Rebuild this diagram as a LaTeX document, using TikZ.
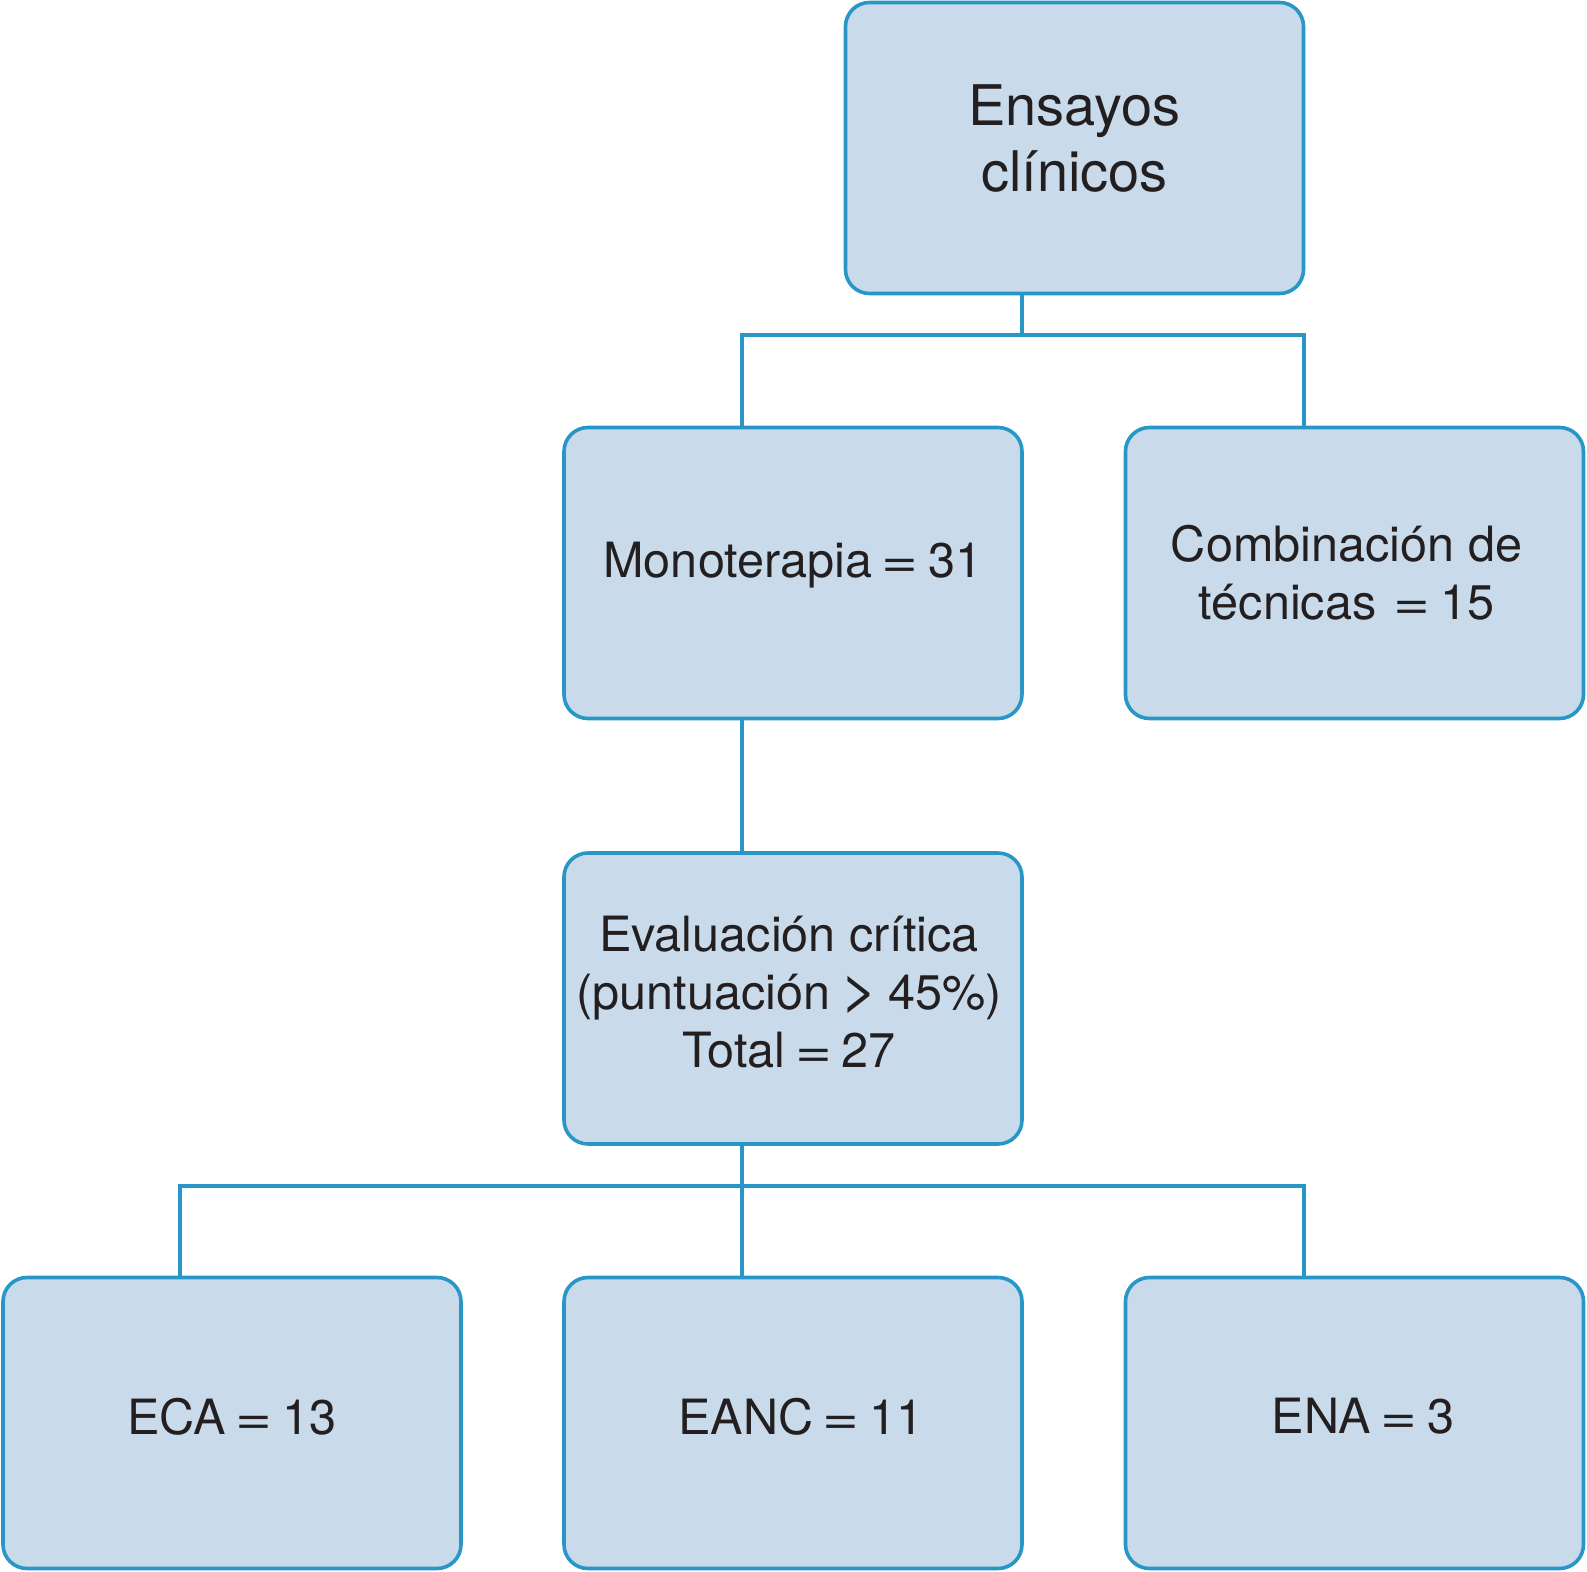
\documentclass[tikz,border=0pt]{standalone}
\usepackage{fontspec}
\usepackage{graphicx}
\setmainfont{TeX Gyre Heros}
\definecolor{edge}{RGB}{40,150,198}
\definecolor{boxfill}{RGB}{201,219,234}
\definecolor{ink}{RGB}{35,31,32}
\newcommand\eqsign{\hspace{0.2em}\scalebox{1.3}[1]{=}\hspace{0.2em}}
\newcommand\gtsign{\hspace{0.2em}\scalebox{1.35}[1.2]{>}\hspace{0.2em}}
\begin{document}
\begin{tikzpicture}[x=0.5pt,y=-0.5pt,
  box/.style={draw=edge,fill=boxfill,line width=1.8pt,rounded corners=12pt,
    minimum width=229pt,minimum height=145.5pt,inner sep=0pt},
  lab/.style={align=center,text=ink,inner sep=0pt,
    font=\fontsize{24.3}{29}\selectfont},
  biglab/.style={lab,font=\fontsize{28}{33}\selectfont},
  link/.style={draw=edge,line width=1.6pt}]
\useasboundingbox (0,0) rectangle (1587,1572);
% boxes
\node[box] (top) at (1074.5,148) {};
\node[box] (mono) at (793,573) {};
\node[box] (comb) at (1354.5,573) {};
\node[box] (eval) at (793,998.5) {};
\node[box] (eca) at (232,1423) {};
\node[box] (eanc) at (793,1423) {};
\node[box] (ena) at (1354.5,1423) {};
% texts
\node[biglab] (topt) at ([yshift=4.5pt]top.center) {Ensayos\\clínicos};
\node[lab] (monot) at ([yshift=4pt]mono.center) {Monoterapia\eqsign 31};
\node[lab] (combt) at ([xshift=-4pt]comb.center) {Combinación de\\técnicas\hspace{0.15em}\eqsign 15};
\node[lab] (evalt) at ([xshift=-2pt,yshift=3.3pt]eval.center) {Evaluación crítica\\(puntuación\gtsign 45\%)\\Total\eqsign 27};
\node[lab] (ecat) at ([yshift=3.3pt]eca.center) {ECA\eqsign 13};
\node[lab] (eanct) at ([xshift=4pt,yshift=3.3pt]eanc.center) {EANC\eqsign 11};
\node[lab] (enat) at ([xshift=4.3pt,yshift=3.3pt]ena.center) {ENA\eqsign 3};
% junctions
\coordinate (j1) at (1022,335);
\coordinate (j2) at (742,1186);
% connectors
\draw[link] (top.south -| j1) -- (j1);
\draw[link] (mono.north -| 742,0) |- (j1) -| (comb.north -| 1304,0);
\draw[link] (mono.south -| 742,0) -- (eval.north -| 742,0);
\draw[link] (eval.south -| j2) -- (eanc.north -| j2);
\draw[link] (eca.north -| 180,0) |- (j2) -| (ena.north -| 1304,0);
\end{tikzpicture}
\end{document}
